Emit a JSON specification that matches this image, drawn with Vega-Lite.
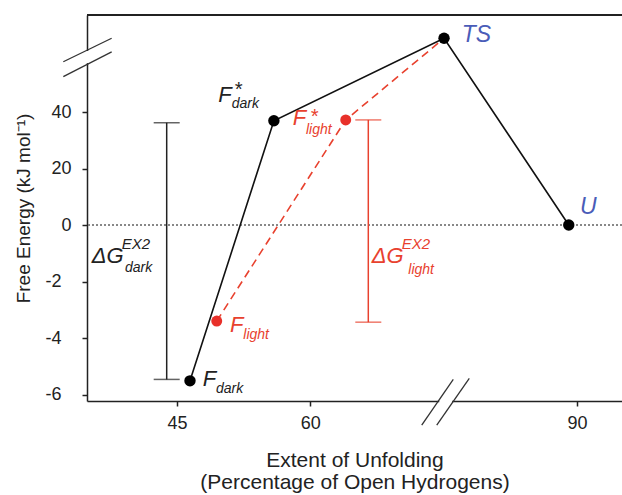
{
  "$schema": "https://vega.github.io/schema/vega-lite/v6.json",
  "width": 535,
  "height": 386,
  "autosize": {"type": "none"},
  "padding": {"left": 87, "top": 15, "right": 0, "bottom": 94},
  "background": "white",
  "config": {
    "view": {"stroke": null},
    "font": "Liberation Sans",
    "axis": {
      "grid": false,
      "domainColor": "#222222",
      "domainWidth": 1.5,
      "tickColor": "#222222",
      "tickWidth": 1.5,
      "tickSize": 5,
      "labelColor": "#222222",
      "labelFont": "Liberation Sans",
      "labelFontSize": 18,
      "titleColor": "#222222",
      "titleFont": "Liberation Sans",
      "titleFontSize": 19,
      "titleFontWeight": "normal"
    }
  },
  "datasets": {
    "states": [
      {"s": "dark", "o": 1, "x": 46.46, "y": -5.5},
      {"s": "dark", "o": 2, "x": 55.9, "y": 36.9},
      {"s": "dark", "o": 3, "x": 75.04, "y": 66.1},
      {"s": "dark", "o": 4, "x": 89.07, "y": 0},
      {"s": "light", "o": 1, "x": 49.47, "y": -3.39},
      {"s": "light", "o": 2, "x": 63.98, "y": 37.2},
      {"s": "light", "o": 3, "x": 75.04, "y": 66.1}
    ],
    "bars": [
      {"g": "dark", "x": 43.84, "lo": -5.45, "hi": 36.2},
      {"g": "light", "x": 66.52, "lo": -3.43, "hi": 37.2}
    ],
    "labels": [
      {"t": "F", "r": "big", "g": "dark", "x": 47.89, "y": -5.68},
      {"t": "dark", "r": "sub", "g": "dark", "x": 49.39, "y": -5.94},
      {"t": "F", "r": "big", "g": "dark", "x": 49.65, "y": 43.6},
      {"t": "*", "r": "star", "g": "dark", "x": 51.41, "y": 45.7},
      {"t": "dark", "r": "sub", "g": "dark", "x": 51.15, "y": 41.3},
      {"t": "F", "r": "big", "g": "light", "x": 58.02, "y": 35.4},
      {"t": "*", "r": "star", "g": "light", "x": 59.96, "y": 36.2},
      {"t": "light", "r": "sub", "g": "light", "x": 59.51, "y": 32.3},
      {"t": "F", "r": "big", "g": "light", "x": 50.96, "y": -3.79},
      {"t": "light", "r": "sub", "g": "light", "x": 52.46, "y": -4.01},
      {"t": "TS", "r": "state", "g": "state", "x": 77.03, "y": 64.9},
      {"t": "U", "r": "state", "g": "state", "x": 90.34, "y": 3.9},
      {"t": "ΔG", "r": "big", "g": "dark", "x": 35.4, "y": -1.35},
      {"t": "EX2", "r": "sup", "g": "dark", "x": 38.78, "y": -0.85},
      {"t": "dark", "r": "sub", "g": "dark", "x": 39.15, "y": -1.65},
      {"t": "ΔG", "r": "big", "g": "light", "x": 66.9, "y": -1.35},
      {"t": "EX2", "r": "sup", "g": "light", "x": 70.28, "y": -0.85},
      {"t": "light", "r": "sub", "g": "light", "x": 71.02, "y": -1.72}
    ],
    "breaks": [
      {"x": 32.21, "y": 57.8, "x2": 37.65, "y2": 66.1},
      {"x": 32.21, "y": 52.5, "x2": 37.65, "y2": 61.3},
      {"x": 72.53, "y": -7.06, "x2": 76.08, "y2": -5.45},
      {"x": 74.22, "y": -7.06, "x2": 77.88, "y2": -5.41}
    ],
    "gaps": [
      {"x": 34.875, "y": 57.3, "x2": 34.875, "y2": 61.6},
      {"x": 74.5, "y": -6.212, "x2": 75.95, "y2": -6.212}
    ]
  },
  "layer": [
    {
      "data": {"name": "states"},
      "transform": [{"filter": "datum.s === 'light'"}],
      "mark": {"type": "line", "color": "#e8412e", "strokeWidth": 1.6, "strokeDash": [8, 5]},
      "encoding": {
        "x": {
          "field": "x", "type": "quantitative",
          "scale": {"domain": [34.875, 95.06], "nice": false, "zero": false},
          "axis": {
            "values": [45, 60, 90], "format": "d", "labelPadding": 8,
            "title": ["Extent of Unfolding", "(Percentage of Open Hydrogens)"],
            "titleFontSize": 21,
            "titlePadding": 17, "titleLineHeight": 22
          }
        },
        "y": {
          "field": "y", "type": "quantitative",
          "scale": {"domain": [-6.212, 0, 74.34], "range": [386, 210, 0], "nice": false, "zero": false},
          "axis": {
            "values": [-6, -4, -2, 0, 20, 40],
            "labelExpr": "datum.value < 0 ? '-' + abs(datum.value) : '' + datum.value",
            "labelPadding": {"condition": {"test": "datum.value < 0", "value": 21}, "value": 11},
            "title": "Free Energy (kJ mol⁻¹)", "titlePadding": 11
          }
        },
        "order": {"field": "o", "type": "quantitative"}
      }
    },
    {
      "data": {"name": "states"},
      "mark": {"type": "rule", "color": "#888888", "strokeWidth": 1.5, "strokeDash": [2, 2]},
      "encoding": {"y": {"datum": 0, "type": "quantitative"}}
    },
    {
      "data": {"name": "states"},
      "mark": {"type": "rule", "color": "#222222", "strokeWidth": 1.5},
      "encoding": {"y": {"datum": 74.34, "type": "quantitative"}}
    },
    {
      "data": {"name": "bars"},
      "mark": {"type": "rule", "strokeWidth": 1.5},
      "encoding": {
        "x": {"field": "x", "type": "quantitative"},
        "y": {"field": "lo", "type": "quantitative"},
        "y2": {"field": "hi"},
        "color": {
          "field": "g", "type": "nominal", "legend": null,
          "scale": {"domain": ["dark", "light", "state"], "range": ["#222222", "#e8412e", "#4a5cb8"]}
        }
      }
    },
    {
      "data": {"name": "bars"},
      "mark": {"type": "tick", "orient": "horizontal", "size": 26, "thickness": 1.5},
      "encoding": {
        "x": {"field": "x", "type": "quantitative"},
        "y": {"field": "lo", "type": "quantitative"},
        "color": {"field": "g", "type": "nominal", "legend": null}
      }
    },
    {
      "data": {"name": "bars"},
      "mark": {"type": "tick", "orient": "horizontal", "size": 26, "thickness": 1.5},
      "encoding": {
        "x": {"field": "x", "type": "quantitative"},
        "y": {"field": "hi", "type": "quantitative"},
        "color": {"field": "g", "type": "nominal", "legend": null}
      }
    },
    {
      "data": {"name": "states"},
      "transform": [{"filter": "datum.s === 'dark'"}],
      "mark": {"type": "line", "color": "#111111", "strokeWidth": 1.6},
      "encoding": {
        "x": {"field": "x", "type": "quantitative"},
        "y": {"field": "y", "type": "quantitative"},
        "order": {"field": "o", "type": "quantitative"}
      }
    },
    {
      "data": {"name": "states"},
      "transform": [{"filter": "datum.s === 'light' && datum.o < 3"}],
      "mark": {"type": "point", "filled": true, "opacity": 1, "color": "#e8302a", "size": 120},
      "encoding": {
        "x": {"field": "x", "type": "quantitative"},
        "y": {"field": "y", "type": "quantitative"}
      }
    },
    {
      "data": {"name": "states"},
      "transform": [{"filter": "datum.s === 'dark'"}],
      "mark": {"type": "point", "filled": true, "opacity": 1, "color": "#000000", "size": 130},
      "encoding": {
        "x": {"field": "x", "type": "quantitative"},
        "y": {"field": "y", "type": "quantitative"}
      }
    },
    {
      "data": {"name": "labels"},
      "transform": [{"filter": "datum.r === 'big'"}],
      "mark": {"type": "text", "align": "left", "baseline": "alphabetic", "fontSize": 22, "fontStyle": "italic", "font": "Liberation Sans"},
      "encoding": {
        "x": {"field": "x", "type": "quantitative"},
        "y": {"field": "y", "type": "quantitative"},
        "text": {"field": "t"},
        "color": {"field": "g", "type": "nominal", "legend": null}
      }
    },
    {
      "data": {"name": "labels"},
      "transform": [{"filter": "datum.r === 'state'"}],
      "mark": {"type": "text", "align": "left", "baseline": "alphabetic", "fontSize": 23, "fontStyle": "italic", "font": "Liberation Sans"},
      "encoding": {
        "x": {"field": "x", "type": "quantitative"},
        "y": {"field": "y", "type": "quantitative"},
        "text": {"field": "t"},
        "color": {"field": "g", "type": "nominal", "legend": null}
      }
    },
    {
      "data": {"name": "labels"},
      "transform": [{"filter": "datum.r === 'sub'"}],
      "mark": {"type": "text", "align": "left", "baseline": "alphabetic", "fontSize": 14, "fontStyle": "italic", "font": "Liberation Sans"},
      "encoding": {
        "x": {"field": "x", "type": "quantitative"},
        "y": {"field": "y", "type": "quantitative"},
        "text": {"field": "t"},
        "color": {"field": "g", "type": "nominal", "legend": null}
      }
    },
    {
      "data": {"name": "labels"},
      "transform": [{"filter": "datum.r === 'sup'"}],
      "mark": {"type": "text", "align": "left", "baseline": "alphabetic", "fontSize": 15, "fontStyle": "italic", "font": "Liberation Sans"},
      "encoding": {
        "x": {"field": "x", "type": "quantitative"},
        "y": {"field": "y", "type": "quantitative"},
        "text": {"field": "t"},
        "color": {"field": "g", "type": "nominal", "legend": null}
      }
    },
    {
      "data": {"name": "labels"},
      "transform": [{"filter": "datum.r === 'star'"}],
      "mark": {"type": "text", "align": "left", "baseline": "alphabetic", "fontSize": 20, "fontStyle": "italic", "font": "Liberation Sans"},
      "encoding": {
        "x": {"field": "x", "type": "quantitative"},
        "y": {"field": "y", "type": "quantitative"},
        "text": {"field": "t"},
        "color": {"field": "g", "type": "nominal", "legend": null}
      }
    },
    {
      "data": {"name": "gaps"},
      "mark": {"type": "rule", "color": "white", "strokeWidth": 4},
      "encoding": {
        "x": {"field": "x", "type": "quantitative"},
        "y": {"field": "y", "type": "quantitative"},
        "x2": {"field": "x2"},
        "y2": {"field": "y2"}
      }
    },
    {
      "data": {"name": "breaks"},
      "mark": {"type": "rule", "color": "#333333", "strokeWidth": 1.3},
      "encoding": {
        "x": {"field": "x", "type": "quantitative"},
        "y": {"field": "y", "type": "quantitative"},
        "x2": {"field": "x2"},
        "y2": {"field": "y2"}
      }
    }
  ]
}
